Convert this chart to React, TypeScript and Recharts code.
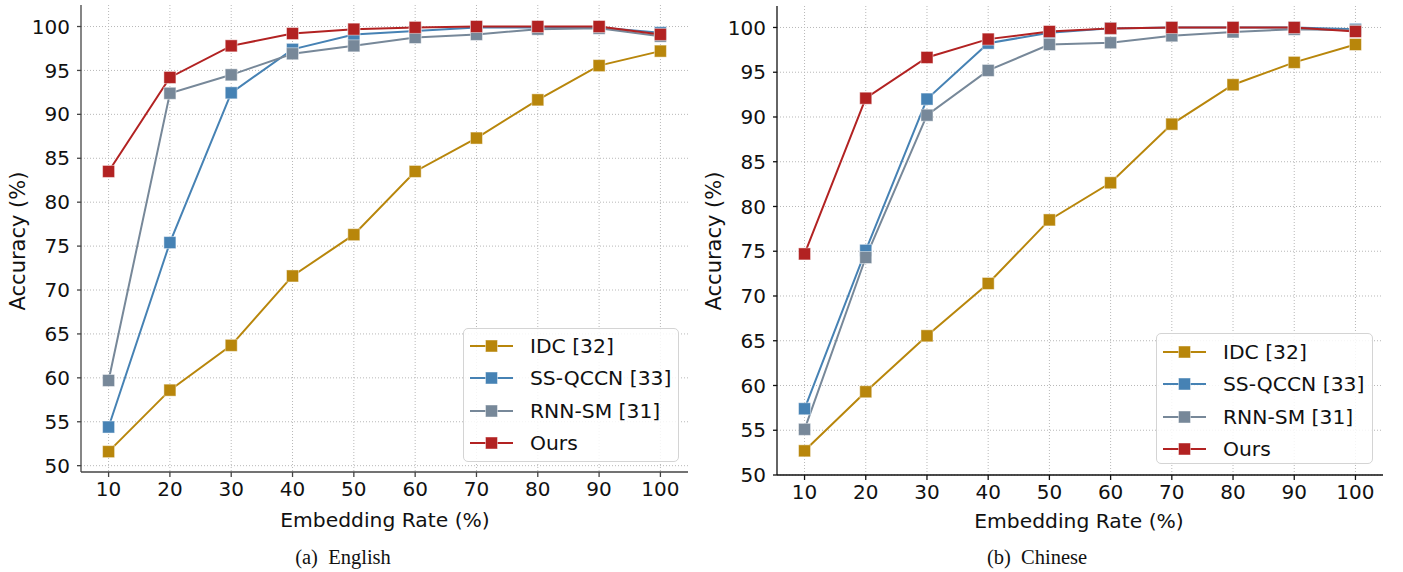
import { LineChart, Line, XAxis, YAxis, CartesianGrid } from 'recharts'

const rates = [10, 20, 30, 40, 50, 60, 70, 80, 90, 100]
const xTicks = [10, 20, 30, 40, 50, 60, 70, 80, 90, 100]
const yTicks = [50, 55, 60, 65, 70, 75, 80, 85, 90, 95, 100]

// (a) English
const idcEn = [51.6, 58.6, 63.7, 71.6, 76.3, 83.5, 87.3, 91.65, 95.55, 97.2]
const qccnEn = [54.4, 75.4, 92.45, 97.4, 99.1, 99.5, 99.9, 99.9, 99.9, 99.3]
const rnnEn = [59.7, 92.4, 94.5, 96.9, 97.8, 98.75, 99.1, 99.7, 99.8, 98.9]
const oursEn = [83.5, 94.2, 97.8, 99.2, 99.7, 99.9, 100, 100, 100, 99.1]

// (b) Chinese
const idcZh = [52.7, 59.3, 65.55, 71.4, 78.5, 82.65, 89.2, 93.6, 96.1, 98.1]
const qccnZh = [57.4, 75.1, 92.0, 98.25, 99.4, 99.9, 100, 100, 100, 99.8]
const rnnZh = [55.1, 74.3, 90.2, 95.2, 98.1, 98.3, 99.07, 99.5, 99.8, 99.7]
const oursZh = [74.7, 92.1, 96.65, 98.7, 99.55, 99.9, 100, 100, 100, 99.55]

const seriesNames = ['IDC [32]', 'SS-QCCN [33]', 'RNN-SM [31]', 'Ours']
const seriesKeys = ['idc', 'qccn', 'rnn', 'ours']
const colors = ['#b8860b', '#4682b4', '#778899', '#b22222']

const FONT = "'DejaVu Sans', sans-serif"

function buildRows(a: number[], b: number[], c: number[], d: number[]) {
  return rates.map((r, i) => ({ rate: r, idc: a[i], qccn: b[i], rnn: c[i], ours: d[i] }))
}

const enRows = buildRows(idcEn, qccnEn, rnnEn, oursEn)
const zhRows = buildRows(idcZh, qccnZh, rnnZh, oursZh)

function squareDot(color: string) {
  return (p: any) => {
    if (p.cx == null || p.cy == null) return <g key={`d-${p.index}`} />
    return (
      <rect key={`d-${p.index}`} x={p.cx - 6} y={p.cy - 6} width={12} height={12}
        fill={color} stroke="#ffffff" strokeOpacity={0.45} strokeWidth={1} />
    )
  }
}

function LegendBox({ left, top, width, height, rowTop }: { left: number; top: number; width: number; height: number; rowTop: number }) {
  return (
    <div style={{
      position: 'absolute', left, top, width, height, boxSizing: 'border-box',
      border: '1px solid #d4d4d4', borderRadius: 5, background: 'rgba(255,255,255,0.85)',
    }}>
      {seriesNames.map((n, i) => (
        <div key={n} style={{ position: 'absolute', left: 0, top: rowTop + i * 32.3 - 16, height: 32, width: '100%' }}>
          <svg width={44} height={32} style={{ position: 'absolute', left: 6, top: 0 }}>
            <line x1={0} y1={16} x2={43} y2={16} stroke={colors[i]} strokeWidth={2} />
            <rect x={15.5} y={10} width={12} height={12} fill={colors[i]} stroke="#fff" strokeOpacity={0.45} />
          </svg>
          <span style={{
            position: 'absolute', left: 66, top: 0, lineHeight: '32px', fontSize: 20.3,
            fontFamily: FONT, color: '#111', whiteSpace: 'nowrap',
          }}>{n}</span>
        </div>
      ))}
    </div>
  )
}

function Panel({ rows, left, yAxisW, marginRight, top, plotBottom, domainY, axisColor }: any) {
  const H = 572
  return (
    <div style={{ position: 'absolute', left, top: 0 }}>
      <LineChart width={700} height={H} data={rows}
        margin={{ top, right: marginRight, left: 0, bottom: 0 }}>
        <CartesianGrid stroke="#b8b8b8" strokeDasharray="1 2" strokeWidth={1}
          verticalValues={xTicks} horizontalValues={yTicks} />
        <XAxis dataKey="rate" type="number" domain={[5.5, 104.5]} ticks={xTicks}
          allowDataOverflow height={H - plotBottom} tickSize={5} tickMargin={5}
          stroke={axisColor} strokeWidth={1.3}
          tick={{ fill: '#111', fontSize: 20, fontFamily: FONT }} interval={0} />
        <YAxis type="number" domain={domainY} ticks={yTicks} allowDataOverflow
          width={yAxisW} tickSize={4} tickMargin={7} stroke={axisColor} strokeWidth={1.3}
          tick={{ fill: '#111', fontSize: 20, fontFamily: FONT }} interval={0} />
        {seriesKeys.map((k, i) => (
          <Line key={k} dataKey={k} stroke={colors[i]} strokeWidth={2}
            dot={squareDot(colors[i])} activeDot={false} isAnimationActive={false} />
        ))}
      </LineChart>
    </div>
  )
}

const textStyle = { position: 'absolute' as const, fontFamily: FONT, fontSize: 20.3, color: '#111', whiteSpace: 'nowrap' as const }

export default function App() {
  return (
    <div style={{ position: 'absolute', left: 0, top: 0, width: 1403, height: 572, background: '#fff', overflow: 'hidden' }}>
      <Panel rows={enRows} left={0} yAxisW={81} marginRight={12} top={5} plotBottom={472}
        domainY={[49.28, 102.45]} axisColor="#444" />
      <Panel rows={zhRows} left={700} yAxisW={77} marginRight={17} top={6} plotBottom={475}
        domainY={[50, 102.4]} axisColor="#111" />

      <div style={{ ...textStyle, fontSize: 21, left: 18, top: 241, transform: 'translate(-50%, -50%) rotate(-90deg)' }}>Accuracy (%)</div>
      <div style={{ ...textStyle, fontSize: 21, left: 714, top: 241, transform: 'translate(-50%, -50%) rotate(-90deg)' }}>Accuracy (%)</div>
      <div style={{ ...textStyle, left: 385, top: 520, transform: 'translate(-50%, -50%)' }}>Embedding Rate (%)</div>
      <div style={{ ...textStyle, left: 1079, top: 521, transform: 'translate(-50%, -50%)' }}>Embedding Rate (%)</div>

      <div style={{ ...textStyle, fontFamily: "'Liberation Serif', serif", fontSize: 20.5, left: 343, top: 557, transform: 'translate(-50%, -50%)' }}>(a)&nbsp; English</div>
      <div style={{ ...textStyle, fontFamily: "'Liberation Serif', serif", fontSize: 20.5, left: 1037, top: 557, transform: 'translate(-50%, -50%)' }}>(b)&nbsp; Chinese</div>

      <LegendBox left={463} top={328} width={216} height={134} rowTop={17} />
      <LegendBox left={1156} top={333} width={217} height={131} rowTop={18} />
    </div>
  )
}
